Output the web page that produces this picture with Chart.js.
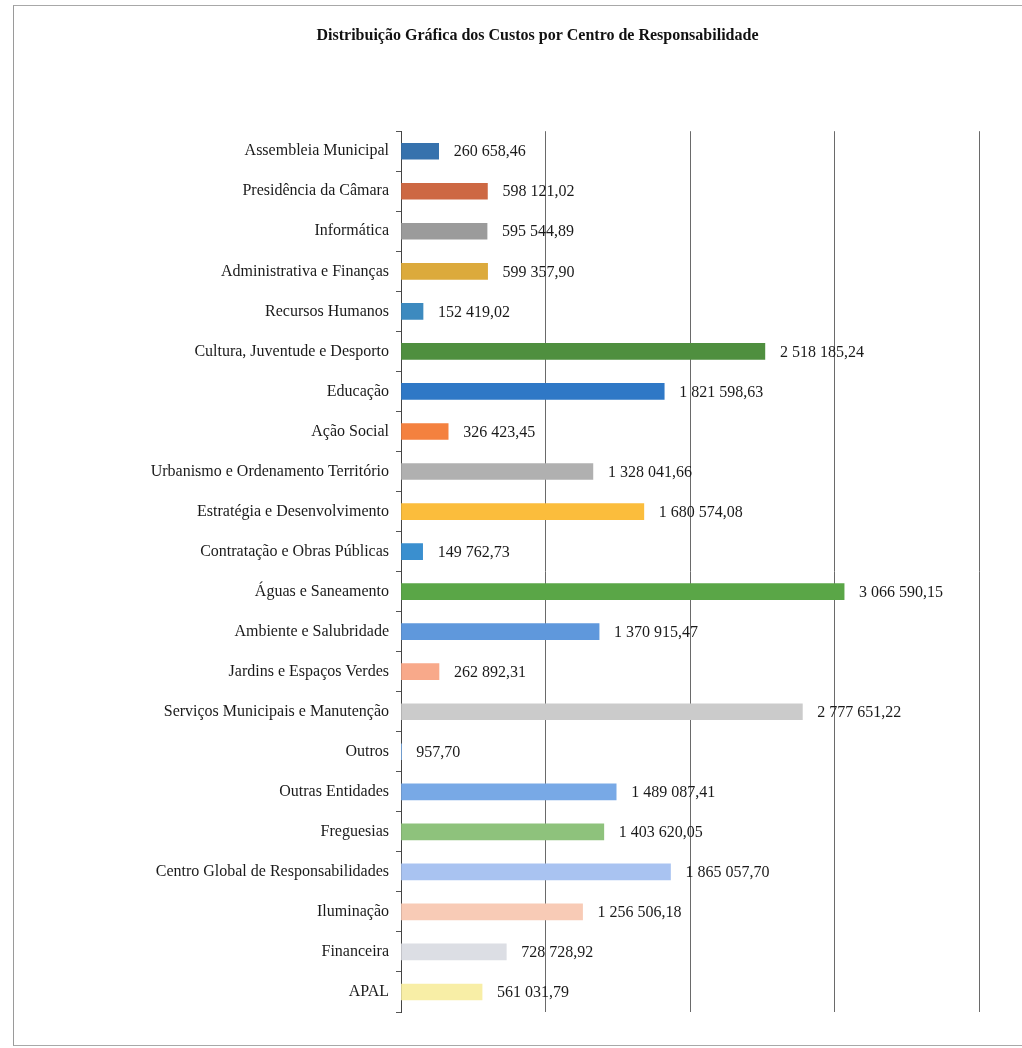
<!DOCTYPE html>
<html>
<head>
<meta charset="utf-8">
<script src="https://cdn.jsdelivr.net/npm/chart.js@4.4.1/dist/chart.umd.min.js"></script>
<style>
html,body{margin:0;padding:0;background:#fff;}
#wrap{position:relative;width:1022px;height:1048px;}
#frame{position:absolute;left:13px;top:5px;width:1020px;height:1039px;border-left:1.5px solid #9a9a9a;border-top:1.5px solid #a8a8a8;border-bottom:1.5px solid #a8a8a8;pointer-events:none;}
canvas{position:absolute;left:0;top:0;}
</style>
</head>
<body>
<div id="wrap">
<canvas id="c" width="1022" height="1048"></canvas>
<div id="frame"></div>
</div>
<script>
const titleText = 'Distribuição Gráfica dos Custos por Centro de Responsabilidade';
const categories = [
  'Assembleia Municipal',
  'Presidência da Câmara',
  'Informática',
  'Administrativa e Finanças',
  'Recursos Humanos',
  'Cultura, Juventude e Desporto',
  'Educação',
  'Ação Social',
  'Urbanismo e Ordenamento Território',
  'Estratégia e Desenvolvimento',
  'Contratação e Obras Públicas',
  'Águas e Saneamento',
  'Ambiente e Salubridade',
  'Jardins e Espaços Verdes',
  'Serviços Municipais e Manutenção',
  'Outros',
  'Outras Entidades',
  'Freguesias',
  'Centro Global de Responsabilidades',
  'Iluminação',
  'Financeira',
  'APAL'
];
const costs = [
  260658.46, 598121.02, 595544.89, 599357.90, 152419.02, 2518185.24,
  1821598.63, 326423.45, 1328041.66, 1680574.08, 149762.73, 3066590.15,
  1370915.47, 262892.31, 2777651.22, 957.70, 1489087.41, 1403620.05,
  1865057.70, 1256506.18, 728728.92, 561031.79
];
const barColors = [
  '#3672ad', '#cd6843', '#9b9b9b', '#dcaa3c', '#3d8abf', '#4f8f3f',
  '#2f78c6', '#f4813f', '#b0b0b0', '#fbbd3c', '#3a8fcf', '#5aa647',
  '#5f98dc', '#f8a98a', '#cbcbcb', '#7aaee8', '#78a9e6', '#8ec27c',
  '#a9c3f1', '#f8cbb6', '#dcdee4', '#f8eea6'
];
const xMax = 4000000;
const xStep = 1000000;

function fmt(v){
  const parts = v.toFixed(2).split('.');
  const int = parts[0].replace(/\B(?=(\d{3})+(?!\d))/g, ' ');
  return int + ',' + parts[1];
}

const valueLabels = {
  id: 'valueLabels',
  afterDatasetsDraw(chart){
    const ctx = chart.ctx;
    const meta = chart.getDatasetMeta(0);
    ctx.save();
    ctx.font = '16px "Liberation Serif", "Times New Roman", serif';
    ctx.fillStyle = '#1a1a1a';
    ctx.textAlign = 'left';
    ctx.textBaseline = 'middle';
    meta.data.forEach((bar, i) => {
      ctx.fillText(fmt(costs[i]), bar.x + 15, bar.y + 1);
    });
    ctx.restore();
  }
};

new Chart(document.getElementById('c'), {
  type: 'bar',
  data: {
    labels: categories,
    datasets: [{
      data: costs,
      backgroundColor: barColors,
      borderWidth: 0,
      barThickness: 16
    }]
  },
  options: {
    indexAxis: 'y',
    responsive: false,
    animation: false,
    devicePixelRatio: 1,
    layout: { padding: { left: 96, right: 43, top: 0, bottom: 36 } },
    plugins: {
      legend: { display: false },
      tooltip: { enabled: false },
      title: {
        display: true,
        text: titleText,
        color: '#111',
        font: { family: '"Liberation Serif", "Times New Roman", serif', size: 16, weight: 'bold' },
        padding: { top: 26, bottom: 86 }
      }
    },
    scales: {
      x: {
        min: 0,
        max: xMax,
        ticks: { display: false, stepSize: xStep },
        grid: { color: '#6a6a6a', lineWidth: 1, drawTicks: false },
        border: { display: false }
      },
      y: {
        afterFit(scale){ scale.width = 305; },
        ticks: {
          color: '#1a1a1a',
          padding: 7,
          font: { family: '"Liberation Serif", "Times New Roman", serif', size: 16 }
        },
        grid: { offset: true, drawOnChartArea: false, tickLength: 5, color: '#555' },
        border: { display: true, color: '#444', width: 1 }
      }
    }
  },
  plugins: [valueLabels]
});
</script>
</body>
</html>
